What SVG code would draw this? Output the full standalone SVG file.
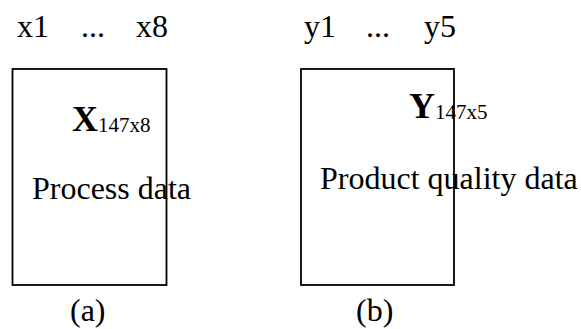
<svg xmlns="http://www.w3.org/2000/svg" width="581" height="329" viewBox="0 0 581 329">
<style>
text{font-family:"Liberation Serif","Times New Roman",serif;fill:#000}
.t{font-size:32px}
.b{font-size:36px;font-weight:bold}
.s{font-size:21px}
.box{fill:none;stroke:#000;stroke-width:1.8}
</style>
<rect width="581" height="329" fill="#fff"/>
<g id="nodeA">
<rect class="box" x="12.5" y="69" width="154" height="216"/>
<text class="t" x="17" y="37">x1</text>
<text class="t" x="81" y="37">...</text>
<text class="t" x="136" y="37">x8</text>
<text x="72" y="131"><tspan class="b">X</tspan><tspan class="s" dy="1">147x8</tspan></text>
<text class="t" x="32" y="199">Process data</text>
<text class="t" x="70" y="321">(a)</text>
</g>
<g id="nodeB">
<rect class="box" x="301" y="69" width="153" height="216"/>
<text class="t" x="304" y="37">y1</text>
<text class="t" x="366" y="37">...</text>
<text class="t" x="424" y="37">y5</text>
<text x="409" y="118"><tspan class="b">Y</tspan><tspan class="s" dy="1">147x5</tspan></text>
<text class="t" x="320" y="189">Product quality data</text>
<text class="t" x="356" y="321">(b)</text>
</g>
<g id="connectors"></g>
</svg>
